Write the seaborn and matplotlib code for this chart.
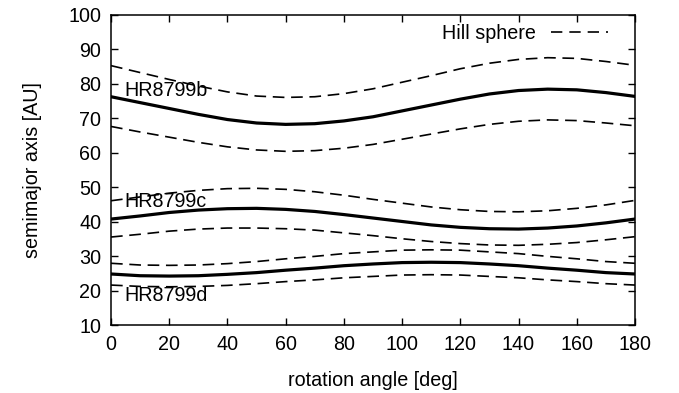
import matplotlib
matplotlib.use("Agg")
import matplotlib.pyplot as plt
import matplotlib.lines as mlines
import seaborn as sns
import pandas as pd

angle = [0, 10, 20, 30, 40, 50, 60, 70, 80, 90, 100, 110, 120, 130, 140, 150, 160, 170, 180]

b_a = [76.2, 74.5, 72.8, 71.1, 69.6, 68.6, 68.2, 68.4, 69.2, 70.4, 72.1, 73.8, 75.5, 77.0, 78.0, 78.4, 78.2, 77.4, 76.3]
b_hi = [85.2, 83.2, 81.2, 79.3, 77.6, 76.4, 76.0, 76.2, 77.1, 78.5, 80.4, 82.3, 84.3, 85.9, 87.0, 87.5, 87.3, 86.4, 85.3]
b_lo = [67.6, 66.0, 64.5, 63.0, 61.7, 60.8, 60.4, 60.6, 61.3, 62.4, 63.9, 65.4, 66.9, 68.2, 69.1, 69.5, 69.3, 68.6, 67.8]

c_a = [40.8, 41.7, 42.7, 43.4, 43.8, 43.9, 43.6, 43.0, 42.1, 41.1, 40.1, 39.1, 38.4, 38.0, 37.9, 38.2, 38.8, 39.7, 40.8]
c_hi = [46.1, 47.2, 48.3, 49.1, 49.6, 49.7, 49.4, 48.7, 47.7, 46.5, 45.4, 44.3, 43.5, 43.0, 42.9, 43.2, 43.9, 44.9, 46.2]
c_lo = [35.6, 36.4, 37.3, 37.9, 38.2, 38.2, 38.0, 37.6, 36.8, 36.0, 35.1, 34.3, 33.7, 33.3, 33.2, 33.5, 34.0, 34.8, 35.7]

d_a = [24.9, 24.4, 24.3, 24.4, 24.8, 25.3, 26.0, 26.6, 27.3, 27.8, 28.2, 28.3, 28.2, 27.8, 27.3, 26.6, 26.0, 25.3, 24.9]
d_hi = [28.0, 27.5, 27.4, 27.5, 27.9, 28.5, 29.3, 30.0, 30.8, 31.3, 31.8, 31.9, 31.8, 31.3, 30.8, 30.0, 29.3, 28.5, 28.0]
d_lo = [21.7, 21.3, 21.2, 21.3, 21.6, 22.1, 22.7, 23.2, 23.8, 24.2, 24.6, 24.7, 24.6, 24.2, 23.8, 23.2, 22.7, 22.1, 21.7]

planet_names = ["HR8799b", "HR8799c", "HR8799d"]
label_pos = [(4.5, 77.9), (4.5, 45.8), (4.5, 18.8)]

x_ticks = [0, 20, 40, 60, 80, 100, 120, 140, 160, 180]
y_ticks = [10, 20, 30, 40, 50, 60, 70, 80, 90, 100]

sns.set_style("ticks")
plt.rcParams["font.family"] = ["Liberation Sans", "DejaVu Sans"]
plt.rcParams["text.color"] = "black"
plt.rcParams["axes.labelcolor"] = "black"

FS = 14.2

fig = plt.figure(figsize=(6.79, 3.93), dpi=100)
ax = fig.add_axes([0.1635, 0.1718, 0.7717, 0.7913])

series = [(b_a, b_hi, b_lo), (c_a, c_hi, c_lo), (d_a, d_hi, d_lo)]
for a, hi, lo in series:
    sns.lineplot(x=angle, y=a, ax=ax, color="black", lw=2.3, legend=False)
    for h in (hi, lo):
        sns.lineplot(x=angle, y=h, ax=ax, color="black", lw=1.2, legend=False)
        ax.lines[-1].set_dashes((7, 4))

for name, (tx, ty) in zip(planet_names, label_pos):
    ax.text(tx, ty, name, fontsize=FS, ha="left", va="center", color="black")

ax.set_xlim(0, 180)
ax.set_ylim(10, 100)
ax.set_xticks(x_ticks)
ax.set_yticks(y_ticks)
ax.tick_params(direction="in", length=5, width=1, top=True, right=True,
               labelsize=FS, pad=7, colors="black", labelcolor="black")
for s in ax.spines.values():
    s.set_visible(True)
    s.set_linewidth(1.1)
    s.set_color("black")
ax.set_xlabel("rotation angle [deg]", fontsize=FS, labelpad=12, color="black")
ax.set_ylabel("semimajor axis [AU]", fontsize=FS, labelpad=19, color="black")

proxy = mlines.Line2D([], [], color="black", lw=1.2, linestyle=(0, (6.8, 4.2)))
leg = ax.legend([proxy], ["Hill sphere"], loc="upper right", bbox_to_anchor=(0.963, 0.995),
                frameon=False, markerfirst=False, fontsize=FS, handlelength=2.9,
                borderaxespad=0.0, handletextpad=0.75)
for t in leg.get_texts():
    t.set_color("black")

fig.savefig("out.png", dpi=100)
